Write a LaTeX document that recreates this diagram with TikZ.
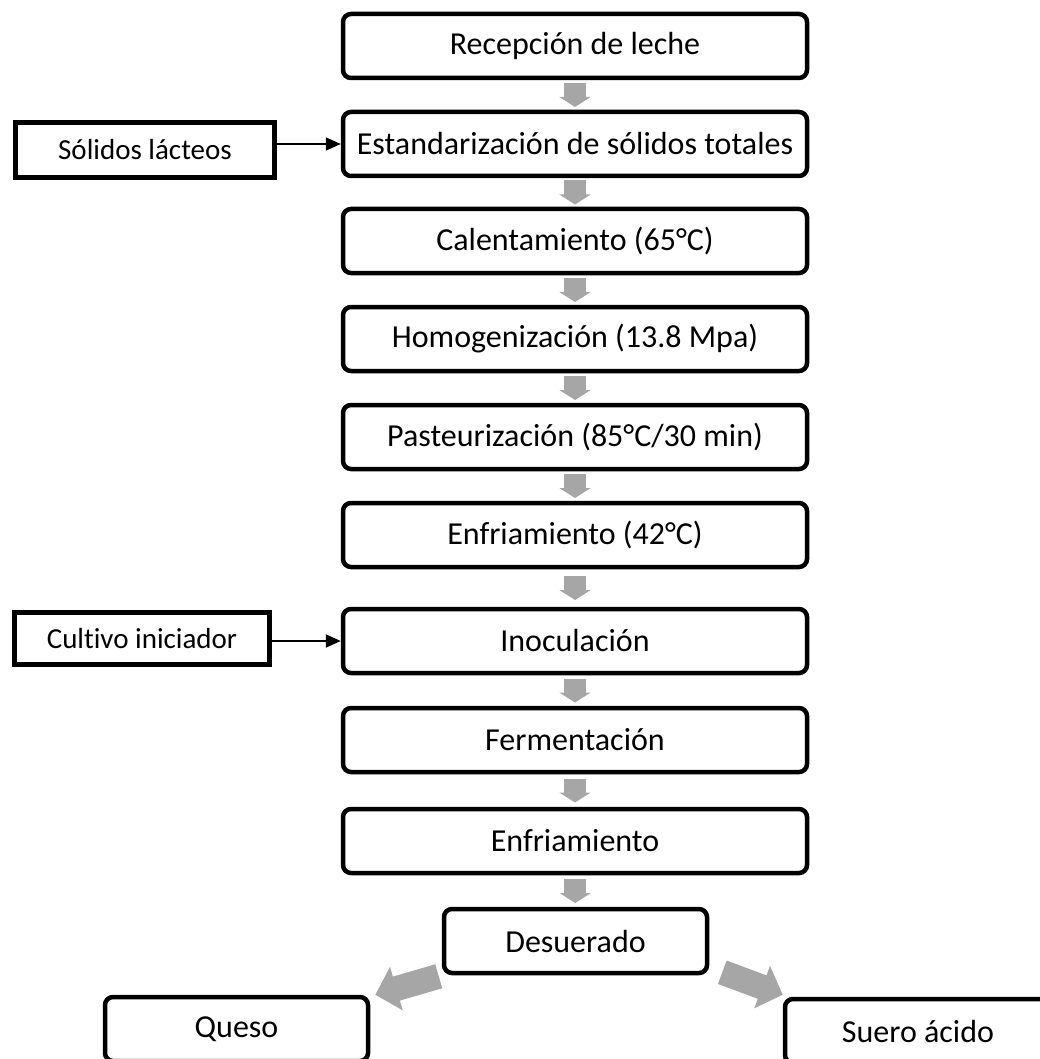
\documentclass[tikz,border=0pt]{standalone}
\usepackage{fontspec}
\setmainfont{Carlito}[Ligatures={NoCommon}]
\usetikzlibrary{arrows.meta,calc}
\definecolor{arrgray}{HTML}{A6A6A6}
\tikzset{
  mainbox/.style={draw=black, line width=4.5pt, rounded corners=8pt, fill=white,
    minimum width=464pt, minimum height=64pt, inner sep=0pt,
    font=\fontsize{32}{36}\selectfont},
  sidebox/.style={draw=black, line width=5pt, fill=white, inner sep=0pt,
    font=\fontsize{29}{34}\selectfont},
  feed/.style={line width=2pt, -{Triangle[length=15pt,width=13pt]}},
  blockdown/.style={draw=arrgray, line width=22pt, -{Triangle[length=10pt,width=31pt]}},
  blockdiag/.style={draw=arrgray, line width=25pt, -{Triangle[length=22pt,width=44pt]}}
}
\begin{document}
\begin{tikzpicture}[x=1pt,y=-1pt]
\useasboundingbox (0,0) rectangle (1040,1059);
\clip (0,0) rectangle (1040,1059);
\node[mainbox] (b1) at (575,46) {Recepción de leche};
\node[mainbox] (b2) at (575,144) {Estandarización de sólidos totales};
\node[mainbox] (b3) at (575,241) {Calentamiento (65°C)};
\node[mainbox] (b4) at (575,339) {Homogenización (13.8 Mpa)};
\node[mainbox] (b5) at (575,437) {Pasteurización (85°C/30 min)};
\node[mainbox] (b6) at (575,535) {Enfriamiento (42°C)};
\node[mainbox] (b7) at (575,641) {Inoculación};
\node[mainbox] (b8) at (575,740) {Fermentación};
\node[mainbox] (b9) at (575,841) {Enfriamiento};
\node[mainbox, minimum width=263pt] (b10) at (575.5,941) {Desuerado};
\node[mainbox, minimum width=263pt] (queso) at (236.5,1029) {Queso};
\node[mainbox, minimum width=266pt] (suero) at (918,1031) {Suero ácido};
\node[sidebox, minimum width=259pt, minimum height=55pt] (sol) at (145,150) {Sólidos lácteos};
\node[sidebox, minimum width=255pt, minimum height=52pt] (cul) at (142,638.5) {Cultivo iniciador};
\draw[feed] (sol.east |- b2.west) -- (b2.west);
\draw[feed] (cul.east |- b7.west) -- (b7.west);
\foreach \a/\b in {b1/b2,b2/b3,b3/b4,b4/b5,b5/b6,b6/b7,b7/b8,b8/b9,b9/b10}{
  \draw[blockdown] ($(\a.south)!0.5!(\b.north)+(0,-12)$) -- ($(\a.south)!0.5!(\b.north)+(0,12)$);
}
\draw[blockdiag] ($(b10.south west)+(-3,1)$) -- ($(queso.north east)+(5,0)$);
\draw[blockdiag] ($(b10.south east)+(13,-3)$) -- ($(suero.north west)+(0,-2)$);
\end{tikzpicture}
\end{document}
